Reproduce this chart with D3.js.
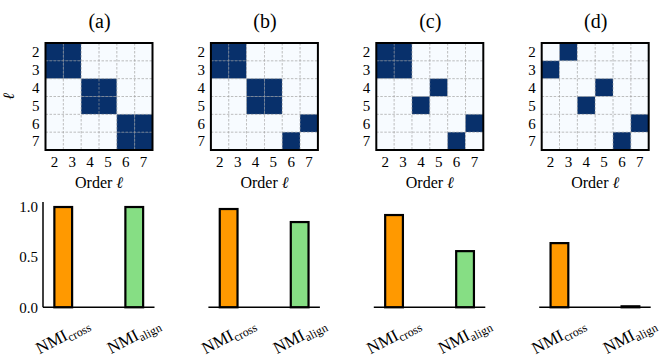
<!DOCTYPE html>
<html>
<head>
<meta charset="utf-8">
<script src="https://cdn.jsdelivr.net/npm/d3@7"></script>
<style>
  html, body { margin: 0; padding: 0; background: #fff; }
  #wrap { position: relative; width: 660px; height: 360px; font-family: 'Liberation Serif', 'DejaVu Serif', serif; }
  #chart { position: absolute; left: 0; top: 0; }
  svg text { font-family: 'Liberation Serif', 'DejaVu Serif', serif; }
  .xl {
    position: absolute; white-space: nowrap; font-size: 17px; line-height: 1;
    transform: translate(-50%, -50%) rotate(-28deg); transform-origin: 50% 50%;
  }
  .xl sub { font-size: 12px; vertical-align: -3px; }
</style>
</head>
<body>
<div id="wrap"><svg id="chart" width="660" height="360"></svg></div>
<script>
// Orders shown on both axes of each co-membership matrix
const orders = [2, 3, 4, 5, 6, 7];
const panelTitles = ["(a)", "(b)", "(c)", "(d)"];

// Co-membership matrices (rows / columns follow `orders`)
const matrixA = [
  [1, 1, 0, 0, 0, 0],
  [1, 1, 0, 0, 0, 0],
  [0, 0, 1, 1, 0, 0],
  [0, 0, 1, 1, 0, 0],
  [0, 0, 0, 0, 1, 1],
  [0, 0, 0, 0, 1, 1]
];
const matrixB = [
  [1, 1, 0, 0, 0, 0],
  [1, 1, 0, 0, 0, 0],
  [0, 0, 1, 1, 0, 0],
  [0, 0, 1, 1, 0, 0],
  [0, 0, 0, 0, 0, 1],
  [0, 0, 0, 0, 1, 0]
];
const matrixC = [
  [1, 1, 0, 0, 0, 0],
  [1, 1, 0, 0, 0, 0],
  [0, 0, 0, 1, 0, 0],
  [0, 0, 1, 0, 0, 0],
  [0, 0, 0, 0, 0, 1],
  [0, 0, 0, 0, 1, 0]
];
const matrixD = [
  [0, 1, 0, 0, 0, 0],
  [1, 0, 0, 0, 0, 0],
  [0, 0, 0, 1, 0, 0],
  [0, 0, 1, 0, 0, 0],
  [0, 0, 0, 0, 0, 1],
  [0, 0, 0, 0, 1, 0]
];
const matrices = [matrixA, matrixB, matrixC, matrixD];

// NMI scores per panel
const metricSubs = ["cross", "align"];
const nmiCross = [1.0, 0.98, 0.92, 0.64];
const nmiAlign = [1.0, 0.85, 0.56, 0.01];
const yTicks = [0.0, 0.5, 1.0];

const barColors = ["#ff9900", "#86de84"];

const svg = d3.select("#chart");
const wrap = d3.select("#wrap");
const panelStep = 165.4;
const heatSize = 107;
const heatTop = 43;
const barTop = 202, barBottom = 307.3, barWidthPx = 111.5;

const color = d3.scaleSequential(d3.interpolateBlues).domain([0, 1]);

matrices.forEach((mat, p) => {
  const off = p * panelStep;
  const hx0 = 45.5 + off;

  const g = svg.append("g");
  const x = d3.scaleBand().domain(orders).range([hx0, hx0 + heatSize]);
  const y = d3.scaleBand().domain(orders).range([heatTop, heatTop + heatSize]);

  const cells = [];
  mat.forEach((row, i) => row.forEach((v, j) => cells.push({ r: orders[i], c: orders[j], v })));

  g.selectAll("rect.cell").data(cells).join("rect")
    .attr("class", "cell")
    .attr("x", d => x(d.c))
    .attr("y", d => y(d.r))
    .attr("width", x.bandwidth())
    .attr("height", y.bandwidth())
    .attr("fill", d => color(d.v));

  // dashed grid on cell boundaries
  const inner = orders.slice(1);
  g.selectAll("line.vg").data(inner).join("line")
    .attr("class", "vg")
    .attr("x1", d => x(d)).attr("x2", d => x(d))
    .attr("y1", heatTop).attr("y2", heatTop + heatSize)
    .attr("stroke", "#9a9a9a").attr("stroke-width", 0.8)
    .attr("stroke-dasharray", "2.5,1.5").attr("opacity", 0.8);
  g.selectAll("line.hg").data(inner).join("line")
    .attr("class", "hg")
    .attr("y1", d => y(d)).attr("y2", d => y(d))
    .attr("x1", hx0).attr("x2", hx0 + heatSize)
    .attr("stroke", "#9a9a9a").attr("stroke-width", 0.8)
    .attr("stroke-dasharray", "2.5,1.5").attr("opacity", 0.8);

  g.append("rect")
    .attr("x", hx0).attr("y", heatTop)
    .attr("width", heatSize).attr("height", heatSize)
    .attr("fill", "none").attr("stroke", "#000").attr("stroke-width", 2);

  // tick labels
  g.selectAll("text.yt").data(orders).join("text")
    .attr("class", "yt")
    .attr("x", hx0 - 6).attr("y", d => y(d) + y.bandwidth() / 2)
    .attr("dy", "0.35em").attr("text-anchor", "end")
    .attr("font-size", 15).text(d => d);
  g.selectAll("text.xt").data(orders).join("text")
    .attr("class", "xt")
    .attr("x", d => x(d) + x.bandwidth() / 2).attr("y", heatTop + heatSize + 17)
    .attr("text-anchor", "middle")
    .attr("font-size", 15).text(d => d);

  const xlab = g.append("text")
    .attr("x", hx0 + heatSize / 2).attr("y", 188)
    .attr("text-anchor", "middle").attr("font-size", 16);
  xlab.append("tspan").text("Order ");
  xlab.append("tspan").attr("font-style", "italic").text("ℓ");

  g.append("text")
    .attr("x", hx0 + heatSize / 2 + 0.5).attr("y", 28)
    .attr("text-anchor", "middle").attr("font-size", 20)
    .text(panelTitles[p]);

  if (p === 0) {
    g.append("text")
      .attr("transform", `translate(14,${heatTop + heatSize / 2}) rotate(-90)`)
      .attr("text-anchor", "middle").attr("font-size", 16)
      .attr("font-style", "italic")
      .text("ℓ");
  }

  // NMI bar panel
  const bx0 = 43 + off;
  const bx = d3.scaleLinear().domain([-0.285, 1.285]).range([bx0, bx0 + barWidthPx]);
  const by = d3.scaleLinear().domain([0, 1.05]).range([barBottom, barTop]);
  const bars = [
    { k: 0, v: nmiCross[p] },
    { k: 1, v: nmiAlign[p] }
  ];
  const bw = 0.25;

  g.selectAll("rect.bar").data(bars).join("rect")
    .attr("class", "bar")
    .attr("x", d => bx(d.k - bw / 2))
    .attr("width", bx(bw) - bx(0))
    .attr("y", d => by(d.v))
    .attr("height", d => by(0) - by(d.v))
    .attr("fill", d => barColors[d.k])
    .attr("stroke", "#000").attr("stroke-width", 2.2);

  g.append("line")
    .attr("x1", bx0).attr("x2", bx0 + barWidthPx)
    .attr("y1", barBottom).attr("y2", barBottom)
    .attr("stroke", "#000").attr("stroke-width", 1.5);

  if (p === 0) {
    g.append("line")
      .attr("x1", bx0).attr("x2", bx0)
      .attr("y1", barTop).attr("y2", barBottom)
      .attr("stroke", "#000").attr("stroke-width", 1.5);
    g.selectAll("text.byt").data(yTicks).join("text")
      .attr("class", "byt")
      .attr("x", bx0 - 5).attr("y", d => by(d))
      .attr("dy", "0.35em").attr("text-anchor", "end")
      .attr("font-size", 15).text(d => d.toFixed(1));
  }

  // rotated category labels (HTML overlay)
  const lbl = wrap.selectAll(`div.xl.p${p}`).data(bars).join("div")
    .attr("class", `xl p${p}`)
    .style("left", d => `${bx(d.k)}px`)
    .style("top", "337px");
  lbl.append("span").text("NMI");
  lbl.append("sub").text(d => metricSubs[d.k]);
});
</script>
</body>
</html>
